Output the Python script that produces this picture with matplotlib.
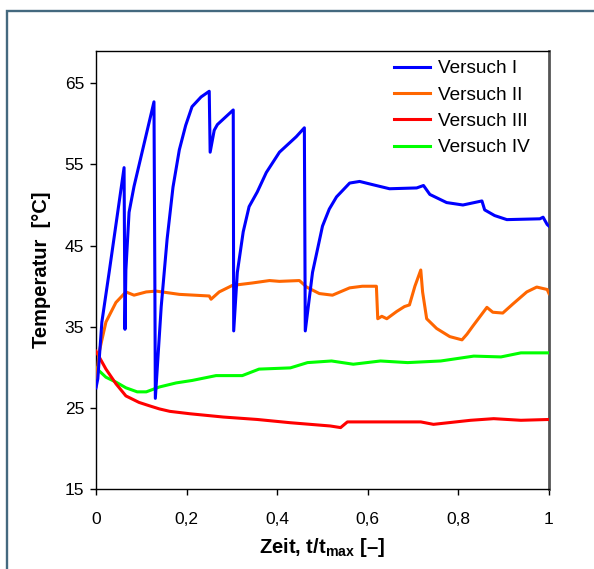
#!/usr/bin/env python3

import matplotlib
matplotlib.use('Agg')
import matplotlib.pyplot as plt
import matplotlib.patches as patches

# Versuch I
x_v1 = [0.0, 0.004, 0.013, 0.029, 0.062, 0.064, 0.066, 0.073, 0.084, 0.128, 0.130, 0.131,
        0.144, 0.157, 0.170, 0.184, 0.198, 0.212, 0.232, 0.250, 0.252, 0.261, 0.268, 0.303,
        0.304, 0.312, 0.325, 0.338, 0.356, 0.376, 0.405, 0.442, 0.460, 0.462, 0.478, 0.500,
        0.515, 0.531, 0.560, 0.582, 0.611, 0.648, 0.708, 0.723, 0.737, 0.774, 0.810, 0.852,
        0.858, 0.880, 0.907, 0.980, 0.987, 0.996, 1.0]
y_v1 = [27.5, 28.6, 35.6, 41.7, 54.6, 34.7, 42.0, 49.1, 52.3, 62.7, 40.0, 26.2,
        37.5, 45.8, 52.2, 56.8, 59.8, 62.1, 63.3, 64.0, 56.5, 59.2, 59.9, 61.7,
        34.5, 41.7, 46.7, 49.8, 51.6, 54.0, 56.5, 58.4, 59.5, 34.5, 41.7, 47.4,
        49.5, 51.0, 52.7, 52.9, 52.5, 52.0, 52.1, 52.4, 51.3, 50.3, 50.0, 50.5,
        49.4, 48.7, 48.2, 48.3, 48.5, 47.6, 47.4]

# Versuch II
x_v2 = [0.0, 0.007, 0.022, 0.044, 0.066, 0.084, 0.111, 0.133, 0.184, 0.250, 0.254,
        0.272, 0.301, 0.345, 0.383, 0.405, 0.449, 0.465, 0.493, 0.522, 0.560, 0.588,
        0.619, 0.622, 0.631, 0.642, 0.664, 0.681, 0.692, 0.704, 0.717, 0.721, 0.730,
        0.752, 0.781, 0.808, 0.819, 0.832, 0.863, 0.876, 0.898, 0.920, 0.951, 0.973,
        0.996, 1.0]
y_v2 = [27.7, 31.9, 35.6, 38.0, 39.3, 38.9, 39.3, 39.4, 39.0, 38.8, 38.4,
        39.3, 40.1, 40.4, 40.7, 40.6, 40.7, 39.9, 39.1, 38.9, 39.8, 40.0,
        40.0, 36.0, 36.3, 36.0, 36.9, 37.5, 37.7, 40.0, 42.0, 39.3, 36.0,
        34.8, 33.8, 33.4, 34.1, 35.1, 37.4, 36.8, 36.7, 37.8, 39.3, 39.9,
        39.6, 39.1]

# Versuch III
x_v3 = [0.0, 0.022, 0.044, 0.066, 0.095, 0.117, 0.140, 0.163, 0.208, 0.281, 0.356,
        0.429, 0.517, 0.540, 0.555, 0.606, 0.717, 0.745, 0.827, 0.878, 0.938, 1.0]
y_v3 = [32.0, 29.8, 28.0, 26.5, 25.7, 25.3, 24.9, 24.6, 24.3, 23.9, 23.6,
        23.2, 22.8, 22.6, 23.3, 23.3, 23.3, 23.0, 23.5, 23.7, 23.5, 23.6]

# Versuch IV
x_v4 = [0.0, 0.022, 0.044, 0.066, 0.091, 0.111, 0.140, 0.177, 0.212, 0.265, 0.323,
        0.360, 0.429, 0.467, 0.520, 0.568, 0.628, 0.688, 0.761, 0.834, 0.894, 0.938, 1.0]
y_v4 = [29.95, 28.8, 28.2, 27.5, 27.0, 27.0, 27.6, 28.1, 28.4, 29.0, 29.0,
        29.8, 29.95, 30.6, 30.8, 30.4, 30.8, 30.6, 30.8, 31.4, 31.3, 31.8, 31.8]

labels = ['Versuch I', 'Versuch II', 'Versuch III', 'Versuch IV']
colors = ['#0000ff', '#ff6600', '#ff0000', '#00ff00']
x_ticks = [0, 0.2, 0.4, 0.6, 0.8, 1.0]
x_ticklabels = ['0', '0,2', '0,4', '0,6', '0,8', '1']
y_ticks = [15, 25, 35, 45, 55, 65]


def main():
    plt.rcParams['font.family'] = ['Liberation Sans', 'DejaVu Sans']
    plt.rcParams['mathtext.fontset'] = 'custom'
    plt.rcParams['mathtext.rm'] = 'Liberation Sans'
    plt.rcParams['mathtext.bf'] = 'Liberation Sans:bold'

    fig = plt.figure(figsize=(5.94, 5.69), dpi=100)
    ax = fig.add_axes([0.1616, 0.140, 0.7626, 0.771])

    series = [(x_v1, y_v1), (x_v2, y_v2), (x_v3, y_v3), (x_v4, y_v4)]
    # draw IV, III, II, I so blue stays on top
    for i in [3, 2, 1, 0]:
        xs, ys = series[i]
        ax.plot(xs, ys, color=colors[i], lw=2.2, label=labels[i], zorder=3 + (3 - i))

    ax.set_xlim(0, 1)
    ax.set_ylim(15, 69)
    ax.set_xticks(x_ticks)
    ax.set_xticklabels(x_ticklabels)
    ax.set_yticks(y_ticks)
    ax.tick_params(direction='out', length=4, width=1, labelsize=12.5)
    ax.tick_params(axis='x', pad=12)
    ax.tick_params(axis='y', pad=4.5)

    for s in ['left', 'bottom', 'top']:
        ax.spines[s].set_color('black')
        ax.spines[s].set_linewidth(1)
    ax.spines['right'].set_color('#555555')
    ax.spines['right'].set_linewidth(2)

    ax.set_xlabel(r'Zeit, t/t$_{\mathbf{max}}$ [–]', fontsize=14.5, fontweight='bold', labelpad=7)
    ax.set_ylabel('Temperatur  [°C]', fontsize=14.5, fontweight='bold', labelpad=10)

    handles, labs = ax.get_legend_handles_labels()
    order = [labs.index(l) for l in labels]
    ax.legend([handles[i] for i in order], [labs[i] for i in order],
              loc='upper left', bbox_to_anchor=(0.636, 1.0), frameon=False,
              fontsize=13.7, handlelength=1.9, handletextpad=0.45,
              labelspacing=0.47, borderpad=0)

    # outer frame around the figure (cut at right/bottom)
    frame = patches.Rectangle((7 / 594, -0.1), 1.2, 1.1 - 11 / 569,
                              transform=fig.transFigure, fill=False,
                              edgecolor='#44697f', lw=1.7, clip_on=False)
    fig.patches.append(frame)

    fig.savefig('out.png', dpi=100)


if __name__ == "__main__":
    main()
